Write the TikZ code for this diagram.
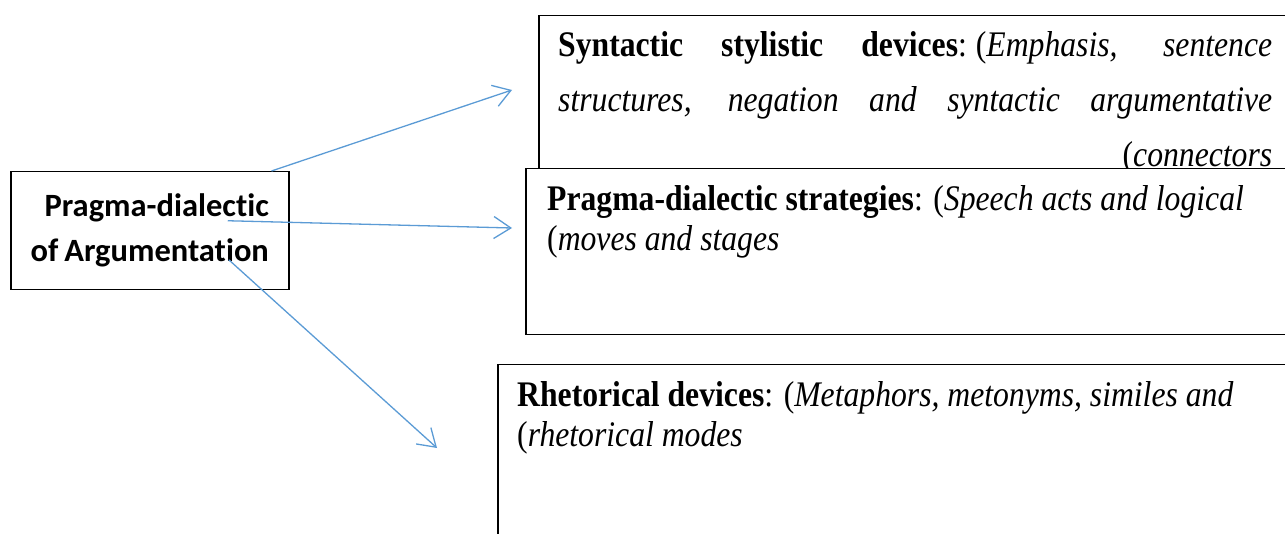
\documentclass[tikz,border=0pt]{standalone}
\usepackage{fontspec}
\setmainfont[FakeStretch=0.88]{Liberation Serif}
\newfontfamily\headfont[Ligatures=NoCommon]{Carlito}
\usetikzlibrary{arrows.meta,positioning}

\definecolor{arrowblue}{RGB}{91,155,213}

\tikzset{
  box/.style={draw, line width=1.5pt, fill=white, anchor=north west, inner sep=0pt},
  boxtext/.style={anchor=north west, inner sep=0pt, align=left},
  link/.style={draw=arrowblue, line width=1.3pt, -{Straight Barb[length=17pt,width=22pt]}},
}

\begin{document}
\begin{tikzpicture}[x=1pt,y=-1pt]
\useasboundingbox (0,0) rectangle (1285,534);
\clip (0,0) rectangle (1285,534);

% left box
\node[box, minimum width=278pt, minimum height=118pt, align=right,
  font=\headfont\bfseries\fontsize{32.5}{45}\selectfont] (src) at (10,171)
  {Pragma-dialectic\\of\hspace{6pt}Argumentation};

% syntactic box (bottom hidden under the next box)
\node[box, minimum width=760pt, minimum height=200pt] (syn) at (538,15) {};
\node[boxtext, font=\fontsize{36}{55}\selectfont] (syntxt) at ([shift={(20pt,-16pt)}]syn.north west)
  {\makebox[714pt][s]{\textbf{Syntactic} \textbf{stylistic} \textbf{devices}:\hspace{9pt}(\textit{Emphasis,} \textit{sentence}}\\
   \makebox[714pt][s]{\textit{structures,} \textit{negation} \textit{and} \textit{syntactic} \textit{argumentative}}\\
   \makebox[714pt][r]{(\textit{connectors}}};

% strategies box
\node[box, minimum width=780pt, minimum height=166pt] (strat) at (525,168) {};
\node[boxtext, font=\fontsize{36}{40}\selectfont] (strattxt) at ([shift={(22pt,-17pt)}]strat.north west)
  {\textbf{Pragma-dialectic strategies}: (\textit{Speech acts and logical}\\
   (\textit{moves and stages}};

% rhetorical box
\node[box, minimum width=800pt, minimum height=200pt] (rhet) at (497,364) {};
\node[boxtext, font=\fontsize{36}{40}\selectfont] (rhettxt) at ([shift={(20pt,-17pt)}]rhet.north west)
  {\textbf{Rhetorical devices}: (\textit{Metaphors, metonyms, similes and}\\
   (\textit{rhetorical modes}};

% arrows
\coordinate (synend) at (512,90);
\coordinate (stratend) at (512,228);
\coordinate (rhetend) at (437,448);
\draw[link] ([xshift=-18pt]src.north east) -- (synend);
\draw[link] ([shift={(78pt,10pt)}]src.center) -- (stratend);
\draw[link] ([shift={(79pt,-29pt)}]src.center) -- (rhetend);
\end{tikzpicture}
\end{document}
